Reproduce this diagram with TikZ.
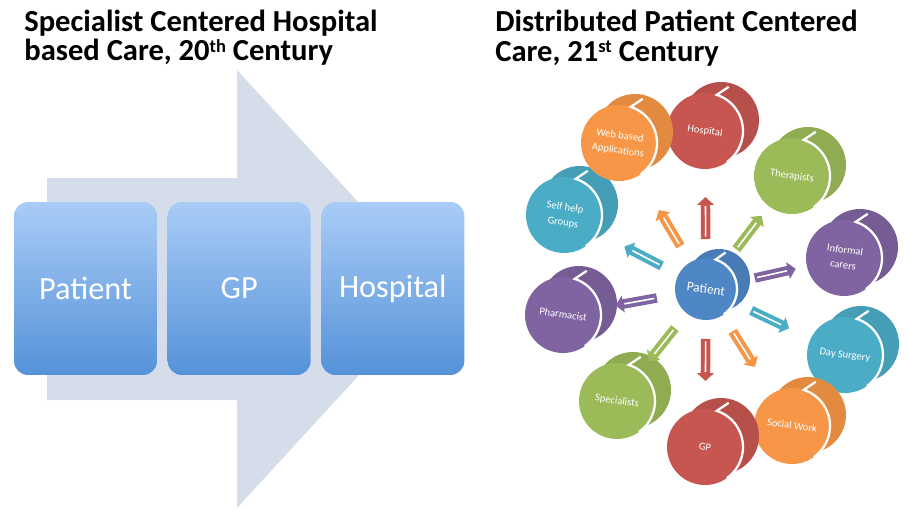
\documentclass[tikz,border=0pt]{standalone}
\usepackage{fontspec}
\setmainfont{Carlito}
\usetikzlibrary{positioning,calc,arrows.meta}

\definecolor{cred}{HTML}{C75650}
\definecolor{cgreen}{HTML}{9BBB59}
\definecolor{cpurple}{HTML}{8064A2}
\definecolor{ccyan}{HTML}{4BACC6}
\definecolor{corange}{HTML}{F79646}
\definecolor{cblue}{HTML}{4F86C6}
\definecolor{arrowgrey}{HTML}{D6DDEA}
\definecolor{boxtop}{HTML}{A9CCF7}
\definecolor{boxbot}{HTML}{5592D8}

\newcommand\supr[1]{\raisebox{4.6pt}{\fontsize{10.5}{10}\selectfont #1}}

\tikzset{
  title/.style={anchor=north west, inner sep=0pt, align=left,
    font=\bfseries\fontsize{17.4}{16.6}\selectfont},
  flowbox/.style={rectangle, rounded corners=0.28cm, minimum width=2.86cm,
    minimum height=3.46cm, inner sep=0pt, top color=boxtop, bottom color=boxbot,
    text=white, font=\fontsize{18.4}{22}\selectfont},
  disk/.style={circle, minimum size=1.52cm, inner sep=0pt, outer sep=0pt,
    text=white, align=center, font=\fontsize{6}{8.6}\selectfont},
  bar/.style={line width=5.4pt, draw=#1, -{Triangle[length=4.5pt,width=9.5pt]}}
}

\begin{document}
\begin{tikzpicture}[x=0.02cm,y=0.02cm]
\useasboundingbox (0,0) rectangle (909,-510);

% titles
\node[title] (lefttitle) at (24,-10) {Specialist Centered Hospital\\based Care, 20\supr{th} Century};
\node[title] (righttitle) at (495,-10) {Distributed Patient Centered\\Care, 21\supr{st} Century};

% 20th century: big arrow with three boxes
\fill[arrowgrey] (47,-178) -- (237,-178) -- (237,-70) -- (438,-289)
  -- (237,-508) -- (237,-400) -- (47,-400) -- cycle;
\node[flowbox] (pbox) at (85.5,-288.5) {Patient};
\node[flowbox, right=0.2cm of pbox] (gbox) {GP};
\node[flowbox, right=0.2cm of gbox] (hbox) {Hospital};

% 21st century: ring of disks
\foreach \n/\px/\py/\c/\t in {
  hosp/705/131/cred/Hospital,
  ther/792/176/cgreen/Therapists,
  info/844/258/cpurple/{Informal\\carers},
  day/845/355/ccyan/Day Surgery,
  soc/792/426/corange/Social Work,
  gp/705/447/cred/GP,
  spec/617/401/cgreen/Specialists,
  pharm/563/315/cpurple/Pharmacist,
  self/564/215/ccyan/{Self help\\Groups},
  web/619/143/corange/{Web based\\Applications}}
{
  \fill[\c!92!black] (\px+16,-\py+11) circle (38);
  \node[disk, fill=\c] (\n) at (\px,-\py) {\rotatebox{-8}{\begin{tabular}{@{}c@{}}\t\end{tabular}}};
  \draw[white, line width=1.3pt] (\n.center) ++(-55:38) arc[start angle=-55, end angle=72, radius=38] -- ++(12,8);
}

% centre disk
\fill[cblue!92!black] (719,-280) circle (31);
\node[disk, fill=cblue, minimum size=1.24cm, font=\fontsize{7.6}{8}\selectfont] (pat) at (706,-289) {\rotatebox{-8}{Patient}};
\draw[white, line width=1.3pt] (pat.center) ++(-55:31) arc[start angle=-55, end angle=72, radius=31] -- ++(10,7);

% bars from the patient
\foreach \n/\c in {hosp/cred, ther/cgreen, info/cpurple, day/ccyan, soc/corange,
  gp/cred, spec/cgreen, pharm/cpurple, self/ccyan, web/corange}
{
  \draw[bar=\c] ($(pat)!1.0cm!(\n)$) -- ($(pat)!1.84cm!(\n)$);
  \draw[white, line width=0.9pt] ($(pat)!1.05cm!(\n)$) -- ($(pat)!1.66cm!(\n)$);
}
\end{tikzpicture}
\end{document}
